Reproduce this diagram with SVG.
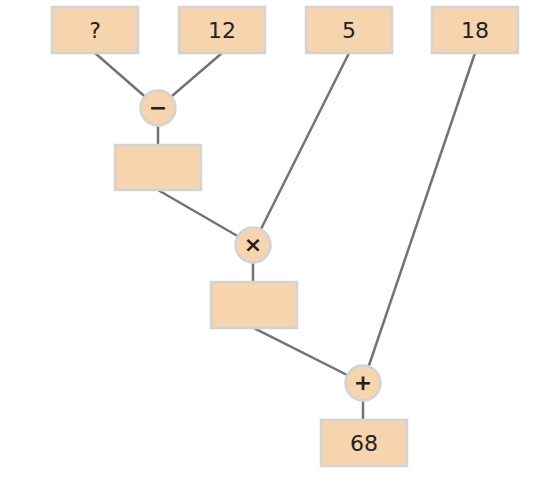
<svg xmlns="http://www.w3.org/2000/svg" width="545" height="487" viewBox="0 0 545 487">
<style>
.box{fill:#f6d4ae;stroke:#d3d3d3;stroke-width:2.5}
.op{fill:#f6d4ae;stroke:#d3d3d3;stroke-width:2.5}
.t{font-family:"DejaVu Sans",sans-serif;font-size:22px;fill:#222;text-anchor:middle;dominant-baseline:central}
.o{font-family:"DejaVu Sans",sans-serif;font-size:22px;font-weight:bold;fill:#222;text-anchor:middle;dominant-baseline:central}
.c line{stroke:#737373;stroke-width:2.5}
</style>
<rect width="545" height="487" fill="#fff"/>
<g class="c" id="connectors">
<line x1="95" y1="53" x2="158" y2="108"/>
<line x1="222" y1="53" x2="158" y2="108"/>
<line x1="158" y1="108" x2="158" y2="146"/>
<line x1="158" y1="190" x2="253" y2="245"/>
<line x1="349" y1="53" x2="253" y2="245"/>
<line x1="253" y1="245" x2="253" y2="283"/>
<line x1="254" y1="328" x2="363" y2="383"/>
<line x1="475" y1="53" x2="363" y2="383"/>
<line x1="363" y1="383" x2="363" y2="421"/>
</g>
<g id="n-q"><rect class="box" x="52" y="7" width="86" height="46"/><text class="t" x="95" y="30">?</text></g>
<g id="n-12"><rect class="box" x="179" y="7" width="86" height="46"/><text class="t" x="222" y="30">12</text></g>
<g id="n-5"><rect class="box" x="306" y="7" width="86" height="46"/><text class="t" x="349" y="30">5</text></g>
<g id="n-18"><rect class="box" x="432" y="7" width="86" height="46"/><text class="t" x="475" y="30">18</text></g>
<g id="op-minus"><circle class="op" cx="158" cy="108" r="17.5"/><text class="o" x="158" y="107">−</text></g>
<g id="n-r1"><rect class="box" x="115" y="145" width="86" height="45"/></g>
<g id="op-times"><circle class="op" cx="253" cy="245" r="17.5"/><text class="o" x="253" y="244">×</text></g>
<g id="n-r2"><rect class="box" x="211" y="282" width="86" height="46"/></g>
<g id="op-plus"><circle class="op" cx="363" cy="383" r="17.5"/><text class="o" x="363" y="382">+</text></g>
<g id="n-68"><rect class="box" x="321" y="420" width="86" height="46"/><text class="t" x="364" y="443">68</text></g>
</svg>
